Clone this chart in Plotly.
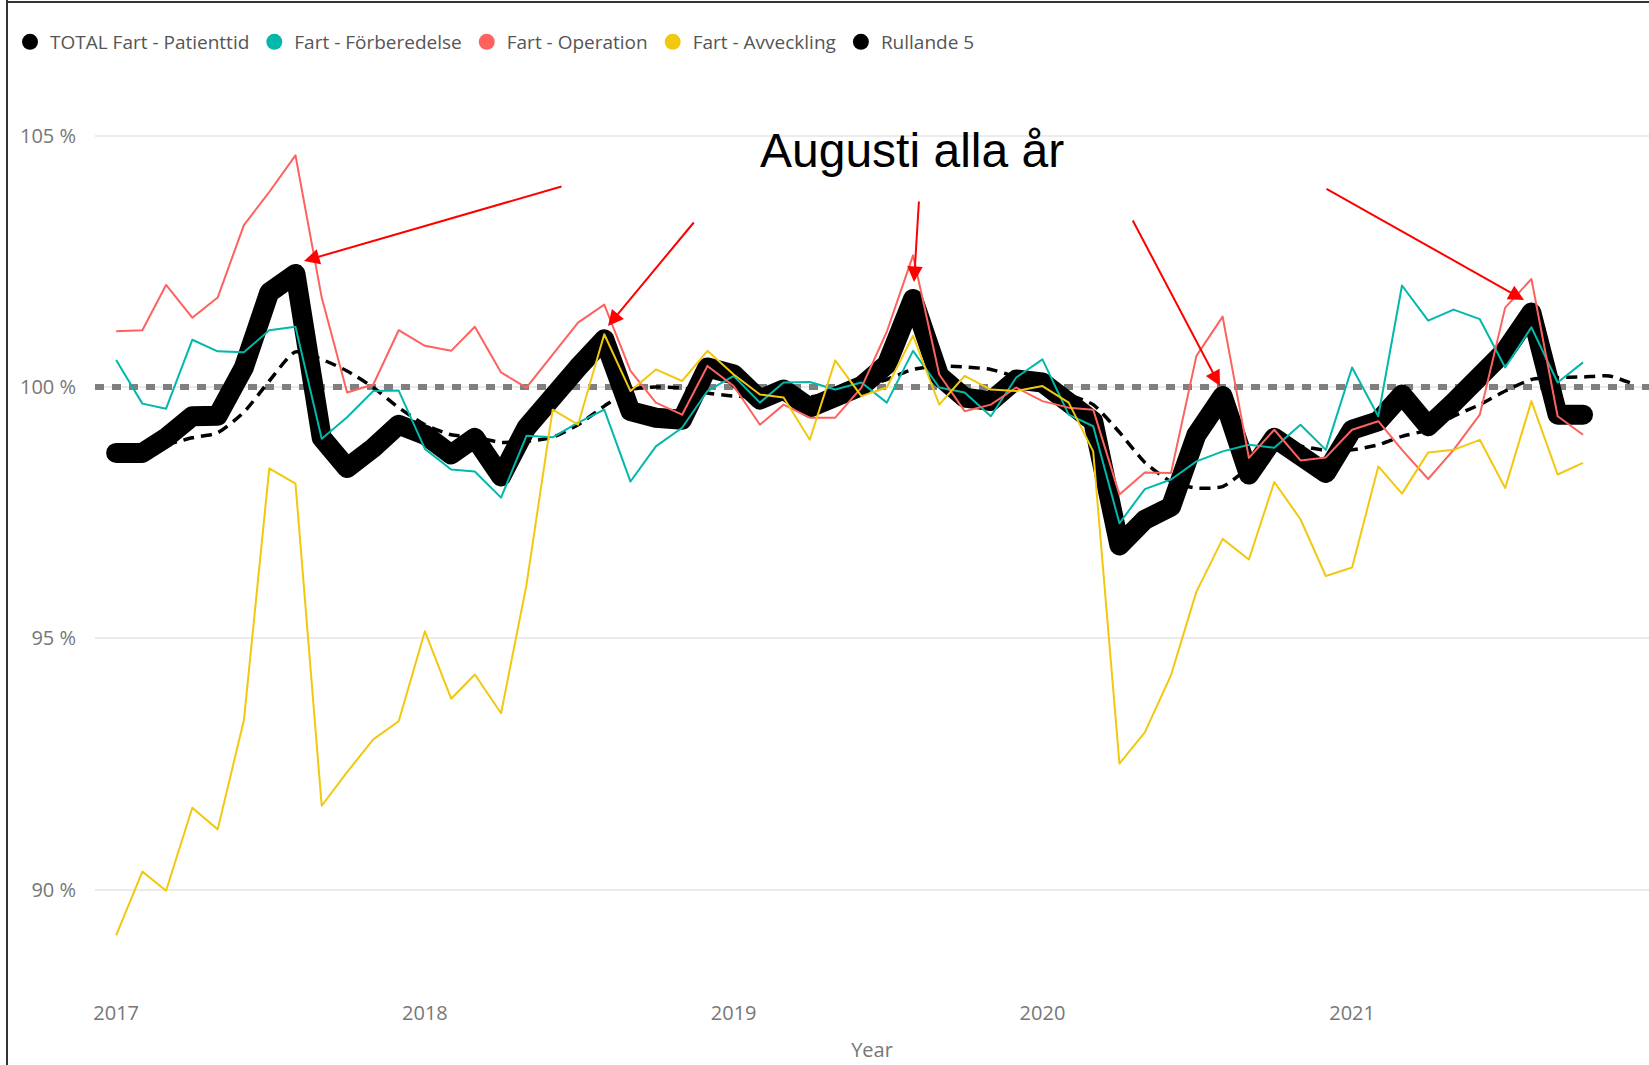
import pandas as pd
import plotly.graph_objects as go

# ---------------- data ----------------
months = pd.date_range("2017-01-01", periods=58, freq="MS")
months_roll = pd.date_range("2017-01-01", periods=60, freq="MS")

total_patienttid = [
    98.69, 98.69, 98.99, 99.42, 99.43, 100.39, 101.88, 102.25, 98.99, 98.39, 98.79, 99.25,
    99.05, 98.66, 98.99, 98.22, 99.19, 99.85, 100.39, 100.95, 99.52, 99.39, 99.35, 100.39,
    100.25, 99.75, 99.95, 99.59, 99.79, 100.02, 100.45, 101.75, 100.22, 99.79, 99.72, 100.15,
    100.09, 99.65, 99.32, 96.85, 97.36, 97.62, 99.05, 99.82, 98.26, 98.99, 98.66, 98.29,
    99.15, 99.32, 99.85, 99.22, 99.69, 100.15, 100.72, 101.48, 99.45, 99.45,
]
forberedelse = [
    100.54, 99.67, 99.57, 100.94, 100.71, 100.69, 101.13, 101.20, 98.97, 99.40, 99.92, 99.93,
    98.77, 98.36, 98.32, 97.80, 99.03, 99.00, 99.29, 99.55, 98.12, 98.82, 99.19, 99.92,
    100.22, 99.69, 100.09, 100.10, 99.95, 100.09, 99.69, 100.72, 99.99, 99.89, 99.42, 100.19,
    100.55, 99.45, 99.22, 97.29, 97.97, 98.16, 98.52, 98.72, 98.85, 98.79, 99.25, 98.75,
    100.39, 99.42, 102.02, 101.32, 101.54, 101.35, 100.39, 101.19, 100.09, 100.49,
]
operation = [
    101.11, 101.13, 102.03, 101.38, 101.78, 103.22, 103.88, 104.61, 101.78, 99.89, 100.05, 101.13,
    100.82, 100.72, 101.20, 100.29, 99.99, 100.65, 101.28, 101.64, 100.32, 99.69, 99.45, 100.42,
    100.02, 99.25, 99.65, 99.39, 99.39, 99.99, 101.10, 102.62, 100.25, 99.52, 99.65, 99.99,
    99.72, 99.59, 99.55, 97.86, 98.30, 98.29, 100.62, 101.40, 98.59, 99.15, 98.54, 98.60,
    99.15, 99.32, 98.75, 98.17, 98.75, 99.45, 101.58, 102.15, 99.42, 99.05,
]
avveckling = [
    89.09, 90.36, 89.98, 91.63, 91.20, 93.37, 98.38, 98.08, 91.67, 92.34, 92.99, 93.35,
    95.14, 93.80, 94.28, 93.51, 96.06, 99.55, 99.25, 101.05, 99.92, 100.35, 100.12, 100.72,
    100.25, 99.85, 99.79, 98.95, 100.53, 99.82, 99.99, 101.02, 99.65, 100.22, 99.95, 99.92,
    100.02, 99.69, 98.72, 92.51, 93.13, 94.27, 95.93, 96.98, 96.57, 98.11, 97.37, 96.24,
    96.41, 98.42, 97.88, 98.70, 98.75, 98.95, 97.99, 99.72, 98.26, 98.49,
]
rullande_5 = [
    None, None, 98.85, 98.99, 99.09, 99.50, 100.12, 100.70, 100.55, 100.32, 99.99, 99.59,
    99.25, 99.05, 99.00, 98.90, 98.92, 99.00, 99.25, 99.62, 99.95, 100.00, 99.98, 99.88,
    99.82, 99.80, 99.78, 99.80, 99.88, 99.98, 100.15, 100.35, 100.42, 100.40, 100.35, 100.20,
    100.05, 99.85, 99.65, 99.10, 98.50, 98.12, 97.99, 98.02, 98.40, 98.82, 98.82, 98.74,
    98.75, 98.85, 99.02, 99.15, 99.42, 99.65, 99.92, 100.15, 100.19, 100.20, 100.22, 100.05,
]
reference_level = 100
y_tick_values = [90, 95, 100, 105]
y_tick_labels = [f"{v} %" for v in y_tick_values]

series_names = ["TOTAL Fart - Patienttid", "Fart - Förberedelse", "Fart - Operation",
                "Fart - Avveckling", "Rullande 5"]
annotation_text = "Augusti alla år"

# ---------------- layout constants ----------------
W, H = 1649, 1065
L, R, T, B = 95, 0, 90, 80
PW, PH = W - L - R, H - T - B
X_RANGE = ["2016-12-07", "2021-12-18"]


def px_x(px):
    return (px - L) / PW


def px_y(py):
    return (H - B - py) / PH


C_BLACK = "#000000"
C_TEAL = "#01B8AA"
C_RED = "#FD625E"
C_YELLOW = "#F2C80F"
FONT = "Open Sans, Noto Sans, sans-serif"

fig = go.Figure()

# constant line at 100 % (drawn as a trace so it sits above the gridlines)
fig.add_trace(go.Scatter(
    x=X_RANGE, y=[reference_level, reference_level], mode="lines", showlegend=False,
    line=dict(color="#7F7F7F", width=6, dash="9px,8px"), hoverinfo="skip",
))

# Rullande 5 (dashed, smooth)
fig.add_trace(go.Scatter(
    x=months_roll, y=rullande_5, mode="lines", name=series_names[4], showlegend=False,
    line=dict(color=C_BLACK, width=3.5, dash="11px,7px", shape="spline", smoothing=0.6),
    connectgaps=False, hoverinfo="skip",
))

# TOTAL (thick)
fig.add_trace(go.Scatter(
    x=months, y=total_patienttid, mode="lines", name=series_names[0], showlegend=False,
    line=dict(color=C_BLACK, width=20), hoverinfo="skip",
))

for vals, col, nm in [(forberedelse, C_TEAL, series_names[1]),
                      (operation, C_RED, series_names[2]),
                      (avveckling, C_YELLOW, series_names[3])]:
    fig.add_trace(go.Scatter(
        x=months, y=vals, mode="lines", name=nm, showlegend=False,
        line=dict(color=col, width=2), hoverinfo="skip",
    ))

# legend entries (round dots, as in the original)
for nm, col in zip(series_names, [C_BLACK, C_TEAL, C_RED, C_YELLOW, C_BLACK]):
    fig.add_trace(go.Scatter(
        x=[None], y=[None], mode="markers", name=nm, showlegend=True,
        marker=dict(color=col, size=17, symbol="circle"),
    ))

# frame of the screenshot (left and top border)
fig.add_shape(type="line", xref="paper", yref="paper", x0=px_x(7), x1=px_x(7),
              y0=px_y(0), y1=px_y(H), line=dict(color="#333333", width=2))
fig.add_shape(type="line", xref="paper", yref="paper", x0=px_x(7), x1=px_x(W),
              y0=px_y(2), y1=px_y(2), line=dict(color="#333333", width=2))

# red arrows (head position, tail offset in px)
arrows = [
    ((304, 261), (259, -75)),
    ((608, 326), (87, -105)),
    ((914, 282), (5, -82)),
    ((1220, 386), (-88, -167)),
    ((1524, 300), (-199, -112)),
]
for (hx, hy), (dx, dy) in arrows:
    fig.add_annotation(
        x=px_x(hx), y=px_y(hy), xref="paper", yref="paper", text="",
        showarrow=True, ax=dx, ay=dy, axref="pixel", ayref="pixel",
        arrowhead=2, arrowsize=1.55, arrowwidth=2, arrowcolor="#FF0000", standoff=0,
    )

fig.add_annotation(
    x=px_x(912), y=px_y(150), xref="paper", yref="paper", text=annotation_text,
    showarrow=False, xanchor="center", yanchor="middle",
    font=dict(family="Liberation Sans, Arial, sans-serif", size=48, color="#000000"),
)

y_lo = 90 - ((H - B) - 889.7) / 50.27
y_hi = 105 + (135.7 - T) / 50.27

fig.update_layout(
    width=W, height=H,
    margin=dict(l=L, r=R, t=T, b=B, pad=0),
    paper_bgcolor="white", plot_bgcolor="white",
    font=dict(family=FONT, size=20, color="#777777"),
    showlegend=True,
    legend=dict(orientation="h", x=px_x(10), y=px_y(42), xanchor="left", yanchor="middle",
                font=dict(family=FONT, size=19, color="#555555"),
                itemwidth=30, bgcolor="rgba(0,0,0,0)"),
    xaxis=dict(
        type="date", range=X_RANGE,
        tick0="2017-01-01", dtick="M12", tickformat="%Y",
        showgrid=False, zeroline=False, showline=False, ticks="",
        ticklabelstandoff=14,
        title=dict(text="Year", standoff=17, font=dict(size=20, color="#777777")),
        tickfont=dict(size=20, color="#777777"),
    ),
    yaxis=dict(
        range=[y_lo, y_hi], tickvals=y_tick_values, ticktext=y_tick_labels,
        showgrid=True, gridcolor="#EBEBEB", gridwidth=1.5,
        zeroline=False, showline=False, ticks="", ticklabelstandoff=18,
        tickfont=dict(size=20, color="#777777"),
    ),
)

post_js = """
document.body.style.margin='0';
document.body.style.overflow='hidden';
document.querySelectorAll('.scatterlayer path.js-line').forEach(function(p){
  p.style.strokeLinejoin='round';
  if (parseFloat(p.style.strokeWidth) > 10) { p.style.strokeLinecap='round'; }
});
"""

fig.write_html("out.html", config={"displayModeBar": False}, post_script=post_js)
